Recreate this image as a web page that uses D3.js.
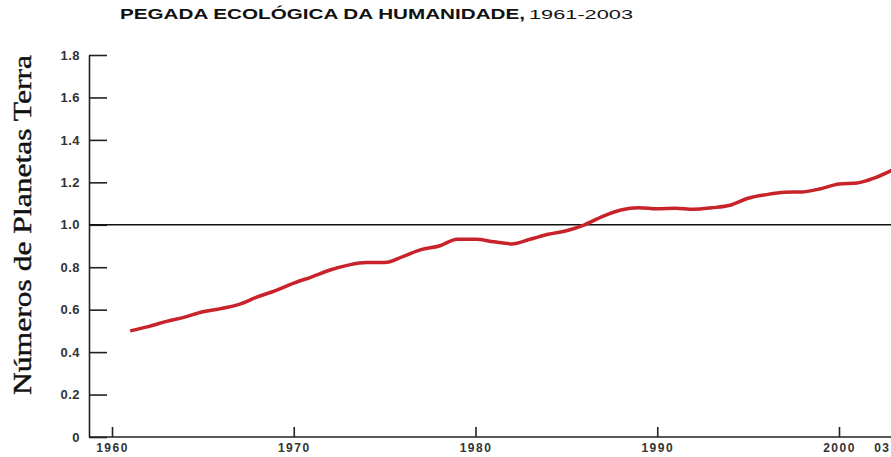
<!DOCTYPE html>
<html>
<head>
<meta charset="utf-8">
<script src="https://cdn.jsdelivr.net/npm/d3@7"></script>
<style>
  body { margin: 0; background: #fff; }
  svg { display: block; }
</style>
</head>
<body>
<div id="chart"></div>
<script>
// data
const years = [1961,1962,1963,1964,1965,1966,1967,1968,1969,1970,1971,1972,1973,1974,1975,1976,1977,1978,1979,1980,
  1981,1982,1983,1984,1985,1986,1987,1988,1989,1990,1991,1992,1993,1994,1995,1996,1997,1998,1999,2000,2001,2002,2003];
const planets = [0.50,0.52,0.545,0.565,0.59,0.605,0.625,0.66,0.69,0.725,0.755,0.787,0.81,0.822,0.822,0.85,0.883,0.90,0.932,0.932,
  0.92,0.91,0.932,0.955,0.972,1.00,1.04,1.07,1.08,1.075,1.078,1.073,1.08,1.092,1.125,1.142,1.153,1.155,1.17,1.192,1.197,1.222,1.26];
const yTicks = [0,0.2,0.4,0.6,0.8,1.0,1.2,1.4,1.6,1.8];
const xTicks = [1960,1970,1980,1990,2000,2003];
const refLine = 1.0;

const W = 891, H = 457;
const axisLeftX = 89, plotTop = 55, plotBottom = 437;

const svg = d3.select("#chart").append("svg")
    .attr("width", W)
    .attr("height", H);

const x = d3.scaleLinear().domain([1960, 2000]).range([112, 839]);
const y = d3.scaleLinear().domain([0, 1.8]).range([plotBottom, plotTop]);

// title
const title = svg.append("text")
    .attr("x", 120)
    .attr("y", 19)
    .style("font-family", "'Liberation Sans', Arial, sans-serif")
    .style("fill", "#111");
title.append("tspan")
    .style("font-weight", "bold")
    .style("font-size", "14px")
    .attr("textLength", 405)
    .attr("lengthAdjust", "spacingAndGlyphs")
    .text("PEGADA ECOLÓGICA DA HUMANIDADE,");
title.append("tspan")
    .attr("dx", 4)
    .style("font-size", "13px")
    .attr("textLength", 104)
    .attr("lengthAdjust", "spacingAndGlyphs")
    .text("1961-2003");

// y axis label
svg.append("text")
    .attr("transform", `translate(31,${(plotTop + 395) / 2}) rotate(-90)`)
    .attr("text-anchor", "middle")
    .style("font-family", "'Liberation Serif', 'Times New Roman', serif")
    .style("font-size", "25px")
    .style("fill", "#111")
    .style("stroke", "#111")
    .style("stroke-width", 0.4)
    .attr("textLength", 340)
    .attr("lengthAdjust", "spacingAndGlyphs")
    .text("Números de Planetas Terra");

// axes
const yAxis = svg.append("g")
    .attr("transform", `translate(${axisLeftX},0)`)
    .call(d3.axisLeft(y)
        .tickValues(yTicks)
        .tickSizeInner(-18)
        .tickSizeOuter(0)
        .tickPadding(9)
        .tickFormat(d => d === 0 ? "0" : d3.format(".1f")(d)));

const xAxis = svg.append("g")
    .attr("transform", `translate(0,${plotBottom})`)
    .call(d3.axisBottom(x)
        .tickValues(xTicks)
        .tickSizeInner(-10)
        .tickSizeOuter(0)
        .tickPadding(6)
        .tickFormat(d => d === 2003 ? "03" : d));

xAxis.select(".domain").attr("d", `M${axisLeftX},0H${W}`);

svg.selectAll(".domain, .tick line")
    .attr("stroke", "#222")
    .attr("stroke-width", 1.6);

svg.selectAll(".tick text")
    .style("font-family", "'Liberation Sans', Arial, sans-serif")
    .style("font-size", "13px")
    .style("font-weight", "bold")
    .style("letter-spacing", "0.5px")
    .style("fill", "#333");

xAxis.selectAll(".tick text")
    .style("font-size", "12px")
    .style("letter-spacing", "1.5px");

// keep the "03" label inside the frame
xAxis.selectAll(".tick text")
    .filter(d => d === 2003)
    .attr("text-anchor", "end")
    .attr("x", W - 1 - x(2003));

// reference line at 1 planet
svg.append("line")
    .attr("x1", axisLeftX)
    .attr("x2", W)
    .attr("y1", y(refLine))
    .attr("y2", y(refLine))
    .attr("stroke", "#111")
    .attr("stroke-width", 1.6);

// footprint line
const line = d3.line()
    .x((d, i) => x(years[i]))
    .y(d => y(d))
    .curve(d3.curveMonotoneX);

svg.append("path")
    .datum(planets)
    .attr("d", line)
    .attr("fill", "none")
    .attr("stroke", "#c8232b")
    .attr("stroke-width", 3.5)
    .attr("stroke-linejoin", "round");
</script>
</body>
</html>
